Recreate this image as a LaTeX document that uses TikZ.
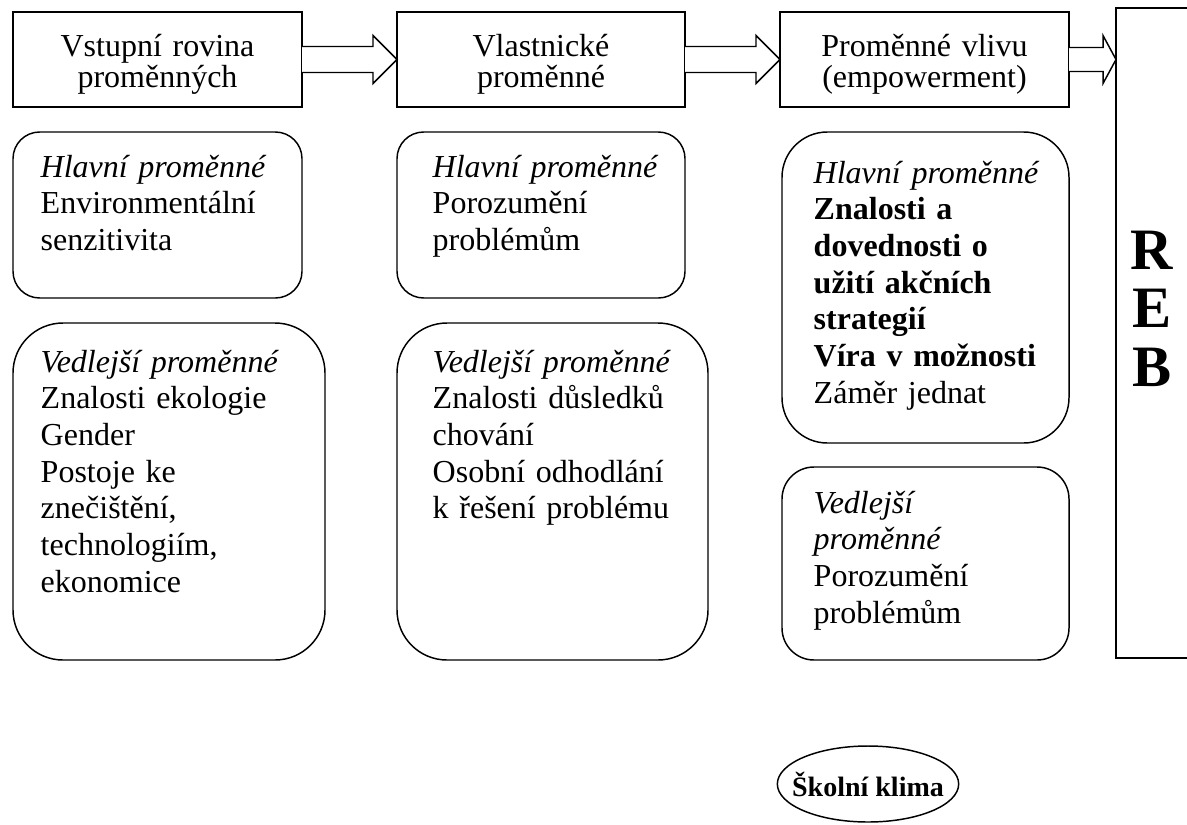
\documentclass[tikz,border=0pt]{standalone}
\usepackage{fontspec}
\setmainfont{Liberation Serif}
\usetikzlibrary{calc,shapes.geometric}
\begin{document}
\begin{tikzpicture}[x=0.75pt,y=-0.75pt, line width=1.1pt,
  topbox/.style={draw, rectangle, inner sep=0pt, outer sep=0pt, anchor=north west},
  rbox/.style={draw, rectangle, inner sep=0pt, outer sep=0pt, anchor=north west},
  body/.style={anchor=base west, inner sep=0pt, align=left, text width=250pt, font=\fontsize{24}{27.5}\selectfont},
  head/.style={anchor=base, inner sep=0pt, align=center, text width=210pt, font=\fontsize{24}{24}\selectfont},
  blockarrow/.style={draw, fill=white, line join=miter},
]
\useasboundingbox (0,0) rectangle (1187,824);

% top boxes
\node[topbox, minimum width=216.75pt, minimum height=71.25pt] (b1) at (13,12) {};
\node[topbox, minimum width=216pt, minimum height=71.25pt] (b2) at (397,12) {};
\node[topbox, minimum width=216.75pt, minimum height=71.25pt] (b3) at (780,12) {};
\node[rectangle, inner sep=0pt, outer sep=0pt, anchor=north west, minimum width=56pt, minimum height=487.5pt] (reb) at (1116,8) {};
\draw (reb.north east) -- (reb.north west) -- (reb.south west) -- (reb.south east);

\node[head] (h1) at ($(b1.north)+(0,44)$) {Vstupní rovina\\proměnných};
\node[head] (h2) at ($(b2.north)+(0,44)$) {Vlastnické\\proměnné};
\node[head] (h3) at ($(b3.north)+(0,44)$) {Proměnné vlivu\\(empowerment)};
\node[anchor=base, inner sep=0pt, align=center, text width=45pt, font=\bfseries\fontsize{44}{44}\selectfont] (rebtxt) at (1152,269) {R\\E\\B};

% block arrows
\draw[blockarrow] ($(b1.east)+(0,-13)$) -- ($(b2.west)+(-24,-13)$) -- ($(b2.west)+(-24,-24)$) -- (b2.west) -- ($(b2.west)+(-24,24)$) -- ($(b2.west)+(-24,13)$) -- ($(b1.east)+(0,13)$);
\draw[blockarrow] ($(b2.east)+(0,-13)$) -- ($(b3.west)+(-24,-13)$) -- ($(b3.west)+(-24,-24)$) -- (b3.west) -- ($(b3.west)+(-24,24)$) -- ($(b3.west)+(-24,13)$) -- ($(b2.east)+(0,13)$);
\coordinate (tip3) at (reb.west |- b3.east);
\draw[blockarrow] ($(b3.east)+(0,-12)$) -- ($(tip3)+(-13,-12)$) -- ($(tip3)+(-13,-24)$) -- (tip3) -- ($(tip3)+(-13,24)$) -- ($(tip3)+(-13,12)$) -- ($(b3.east)+(0,12)$);

% rounded boxes
\node[rbox, rounded corners=20pt, minimum width=216.75pt, minimum height=124.5pt] (m1) at (13,132) {};
\node[rbox, rounded corners=37.5pt, minimum width=234pt, minimum height=252.75pt] (s1) at (13,323) {};
\node[rbox, rounded corners=20pt, minimum width=216pt, minimum height=124.5pt] (m2) at (397,132) {};
\node[rbox, rounded corners=37.5pt, minimum width=233.25pt, minimum height=252.75pt] (s2) at (397,323) {};
\node[rbox, rounded corners=34pt, minimum width=215.25pt, minimum height=233.25pt] (m3) at (782,132) {};
\node[rbox, rounded corners=24pt, minimum width=215.25pt, minimum height=144.75pt] (s3) at (782,467) {};

\node[body] (t1) at (40,177) {\textit{Hlavní proměnné}\\Environmentální\\senzitivita};
\node[body] (t2) at (40,372) {\textit{Vedlejší proměnné}\\Znalosti ekologie\\Gender\\Postoje ke\\znečištění,\\technologiím,\\ekonomice};
\node[body] (t3) at (432,177) {\textit{Hlavní proměnné}\\Porozumění\\problémům};
\node[body] (t4) at (432,372) {\textit{Vedlejší proměnné}\\Znalosti důsledků\\chování\\Osobní odhodlání\\k řešení problému};
\node[body] (t5) at (813,183) {\textit{Hlavní proměnné}\\\textbf{Znalosti a}\\\textbf{dovednosti o}\\\textbf{užití akčních}\\\textbf{strategií}\\\textbf{Víra v možnosti}\\Záměr jednat};
\node[body] (t6) at (813,513) {\textit{Vedlejší}\\\textit{proměnné}\\Porozumění\\problémům};

% ellipse
\node[draw, ellipse, inner sep=0pt, minimum width=136pt, minimum height=57pt] (clim) at (868,784) {};
\node[inner sep=0pt, font=\bfseries\fontsize{21}{21}\selectfont] (climtxt) at (clim.center) {Školní klima};
\end{tikzpicture}
\end{document}
